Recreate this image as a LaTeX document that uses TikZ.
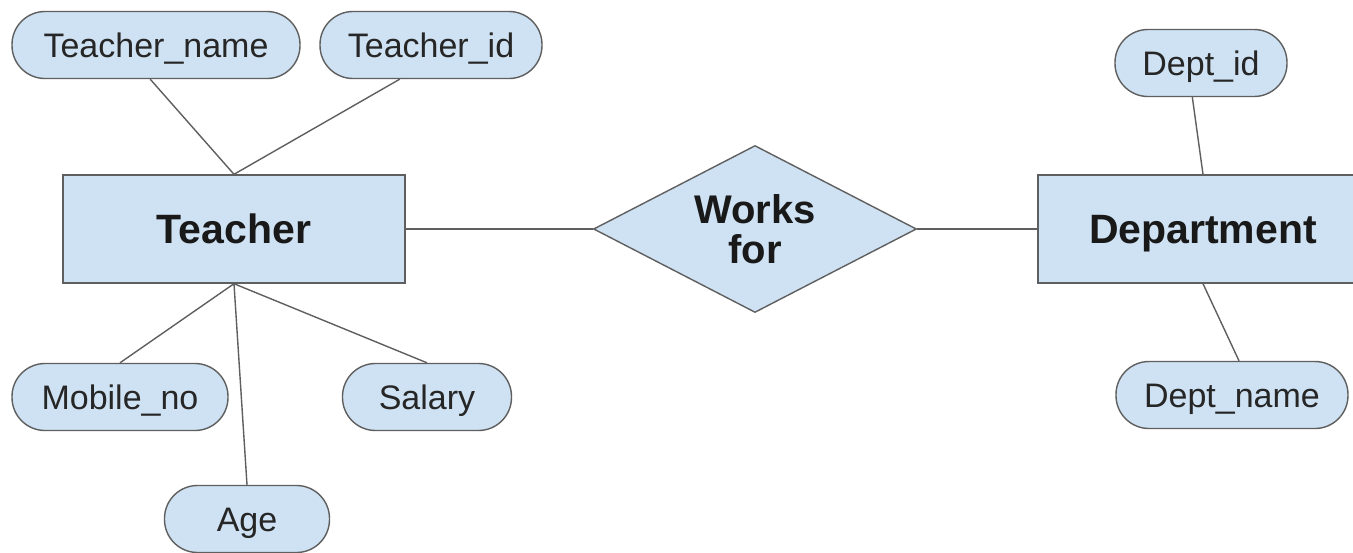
\documentclass[tikz,border=0pt]{standalone}
\usepackage{fontspec}
\setmainfont{Liberation Sans}
\usetikzlibrary{shapes.geometric,calc}
\definecolor{erfill}{HTML}{CFE2F3}
\definecolor{erline}{HTML}{5F5F5F}
\tikzset{
  attr/.style={draw=erline, fill=erfill, line width=1.4pt, rounded corners=33pt,
    minimum height=#1, inner sep=0pt, text=black!85, text height=24.5pt, text depth=0pt,
    font=\fontsize{34}{40}\selectfont},
  attr/.default=67pt,
  entity/.style={draw=erline, fill=erfill, line width=1.4pt, minimum height=108pt,
    inner sep=0pt, text=black!90, text height=29.5pt, text depth=0pt,
    font=\fontsize{41}{46}\selectfont\bfseries},
  relbox/.style={diamond, aspect=1.93, draw=erline, fill=erfill, line width=1.4pt, inner sep=0pt,
    minimum width=323pt, minimum height=167pt, align=center, text=black!90,
    font=\fontsize{40}{40}\selectfont\bfseries},
  conn/.style={draw=erline, line width=1.4pt}
}
\begin{document}
\begin{tikzpicture}[x=1pt,y=-1pt]
\useasboundingbox (0,0) rectangle (1353,552);
\fill[white] (0,0) rectangle (1353,552);
% entities
\node[entity, minimum width=342pt] (teacher) at (234,229) {Teacher};
\node[entity, minimum width=330pt] (dept) at (1203,229) {Department};
\node[relbox] (works) at (755,229) {Works\\for};
% attributes
\node[attr, minimum width=288pt] (tname) at (156,45) {Teacher\_name};
\node[attr, minimum width=222pt] (tid) at (431,45) {Teacher\_id};
\node[attr, minimum width=216pt] (mob) at (120,397) {Mobile\_no};
\node[attr, minimum width=169pt] (sal) at (427,397) {Salary};
\node[attr, minimum width=165pt] (age) at (247,519) {Age};
\node[attr, minimum width=172pt] (did) at (1201,63) {Dept\_id};
\node[attr, minimum width=232pt] (dname) at (1232,395) {Dept\_name};
% connectors
\draw[conn] ($(tname.south west)!0.48!(tname.south east)$) -- (teacher.north);
\draw[conn] ($(tid.south west)!0.36!(tid.south east)$) -- (teacher.north);
\draw[conn] (teacher.south) -- (mob.north);
\draw[conn] (teacher.south) -- (age.north);
\draw[conn] (teacher.south) -- (sal.north);
\draw[conn] (teacher.east) -- (works.west);
\draw[conn] (works.east) -- (dept.west);
\draw[conn] ($(did.south west)!0.45!(did.south east)$) -- (dept.north);
\draw[conn] (dept.south) -- ($(dname.north west)!0.53!(dname.north east)$);
\end{tikzpicture}
\end{document}
